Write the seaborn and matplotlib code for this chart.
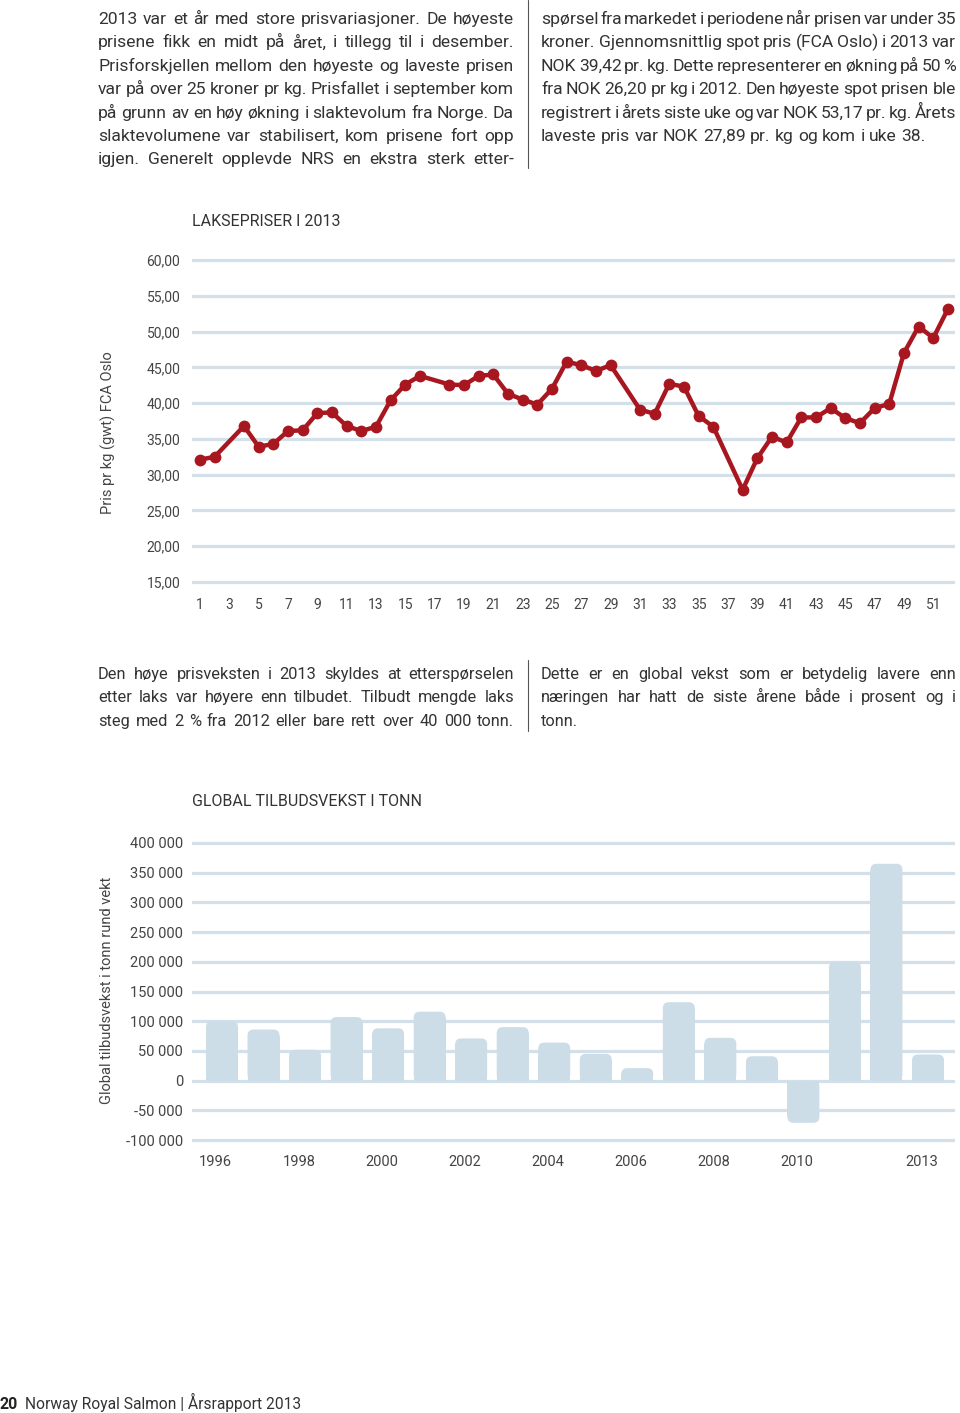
import numpy as np
import pandas as pd
import seaborn as sns
import matplotlib.pyplot as plt
from matplotlib.patches import FancyBboxPatch, Rectangle
from matplotlib.lines import Line2D

# ===== data =====
weeks = [1, 2, 4, 5, 6, 7, 8, 9, 10, 11, 12, 13, 14, 15, 16, 18, 19, 20, 21, 22,
         23, 24, 25, 26, 27, 28, 29, 31, 32, 33, 34, 35, 36, 38, 39, 40, 41, 42,
         43, 44, 45, 46, 47, 48, 49, 50, 51, 52]
prices = [32.1, 32.5, 36.8, 33.9, 34.3, 36.1, 36.2, 38.6, 38.7, 36.8, 36.1, 36.7,
          40.4, 42.6, 43.8, 42.6, 42.5, 43.8, 44.0, 41.3, 40.5, 39.8, 42.0, 45.8,
          45.3, 44.5, 45.3, 39.1, 38.5, 42.7, 42.3, 38.2, 36.7, 27.89, 32.3, 35.3,
          34.5, 38.0, 38.0, 39.3, 37.9, 37.2, 39.3, 39.9, 47.0, 50.7, 49.1, 53.17]
price_ticks = [15, 20, 25, 30, 35, 40, 45, 50, 55, 60]
week_ticks = list(range(1, 52, 2))

years = [str(y) for y in range(1996, 2014)]
growth = [100000, 86000, 52000, 107000, 88000, 116000, 71000, 90000, 64000,
          45000, 21000, 132000, 72000, 41000, -71000, 200000, 365000, 44000]
growth_ticks = list(range(-100000, 400001, 50000))
year_labels = ["1996", "1998", "2000", "2002", "2004", "2006", "2008", "2010", "2013"]

text_top_left = [
    "2013 var et år med store prisvariasjoner. De høyeste",
    "prisene fikk en midt på året, i tillegg til i desember.",
    "Prisforskjellen mellom den høyeste og laveste prisen",
    "var på over 25 kroner pr kg. Prisfallet i september kom",
    "på grunn av en høy økning i slaktevolum fra Norge. Da",
    "slaktevolumene var stabilisert, kom prisene fort opp",
    "igjen. Generelt opplevde NRS en ekstra sterk etter-",
]
text_top_right = [
    "spørsel fra markedet i periodene når prisen var under 35",
    "kroner. Gjennomsnittlig spot pris (FCA Oslo) i 2013 var",
    "NOK 39,42 pr. kg. Dette representerer en økning på 50 %",
    "fra NOK 26,20 pr kg i 2012. Den høyeste spot prisen ble",
    "registrert i årets siste uke og var NOK 53,17 pr. kg. Årets",
    "laveste pris var NOK 27,89 pr. kg og kom i uke 38.",
]
text_mid_left = [
    "Den høye prisveksten i 2013 skyldes at etterspørselen",
    "etter laks var høyere enn tilbudet. Tilbudt mengde laks",
    "steg med 2 % fra 2012 eller bare rett over 40 000 tonn.",
]
text_mid_right = [
    "Dette er en global vekst som er betydelig lavere enn",
    "næringen har hatt de siste årene både i prosent og i",
    "tonn.",
]

# ===== style =====
sns.set_theme(style="white")
plt.rcParams["font.family"] = ["Roboto", "DejaVu Sans"]
TXT = "#333333"
TICK = "#444444"
GRID = "#d3e0e9"
RED = "#a8171f"
BAR = "#ccdde7"

W, H = 960, 1413
fig = plt.figure(figsize=(W / 100, H / 100), dpi=100)
fig.patch.set_facecolor("white")
renderer = fig.canvas.get_renderer()


def fx(x):
    return x / W


def fy(y):
    return 1 - y / H


def rect(left, top, right, bottom):
    return [fx(left), fy(bottom), (right - left) / W, (bottom - top) / H]


def justify(lines, x0, x1, y0, step, size, free=()):
    probe1 = fig.text(0, 0, "x x", fontsize=size)
    probe2 = fig.text(0, 0, "xx", fontsize=size)
    space = probe1.get_window_extent(renderer).width - probe2.get_window_extent(renderer).width
    probe1.remove()
    probe2.remove()
    for i, line in enumerate(lines):
        words = line.split(" ")
        y = y0 + i * step
        texts = [fig.text(0, fy(y), w, fontsize=size, color=TXT, va="baseline")
                 for w in words]
        widths = [t.get_window_extent(renderer).width for t in texts]
        if i in free or len(words) == 1:
            gap = space
        else:
            gap = (x1 - x0 - sum(widths)) / (len(words) - 1)
        x = x0
        for t, w in zip(texts, widths):
            t.set_x(fx(x))
            x += w + gap


# ===== text blocks =====
justify(text_top_left, 98, 514, 24, 23.4, 12.6)
justify(text_top_right, 541, 956, 24, 23.4, 12.6, free=(5,))
justify(text_mid_left, 98, 514, 679, 23.4, 11.8)
justify(text_mid_right, 541, 956, 679, 23.4, 11.8, free=(2,))

for y_a, y_b in [(0, 168), (660, 731)]:
    fig.add_artist(Line2D([fx(528), fx(528)], [fy(y_a), fy(y_b)], color="#555555", lw=0.8))

# ===== chart 1: laksepriser =====
ax1 = fig.add_axes(rect(192, 256.4, 955, 585.6))
sns.lineplot(x=weeks, y=prices, ax=ax1, color=RED, lw=3.2, marker="o",
             markersize=8.5, markeredgewidth=0, zorder=3)
ax1.set_xlim(0.456, 52.48)
ax1.set_ylim(14.5, 60.5)
ax1.set_yticks(price_ticks)
ax1.set_yticklabels([f"{v},00" for v in price_ticks])
ax1.set_xticks(week_ticks)
ax1.set_xticklabels([str(w) for w in week_ticks])
ax1.yaxis.grid(True, color=GRID, lw=2.3)
ax1.xaxis.grid(False)
ax1.set_axisbelow(True)
for s in ax1.spines.values():
    s.set_visible(False)
ax1.tick_params(axis="y", length=0, pad=8.5, labelsize=10, labelcolor=TICK)
ax1.tick_params(axis="x", length=0, pad=9, labelsize=10, labelcolor=TICK)
ax1.set_xlabel("")
ax1.set_ylabel("")
fig.text(fx(108), fy(433), "Pris pr kg (gwt) FCA Oslo", rotation=90, ha="center",
         va="center", fontsize=10.5, color=TICK)
fig.text(fx(192), fy(226), "LAKSEPRISER I 2013", fontsize=11.5, color="#333333",
         va="baseline")

# ===== chart 2: global tilbudsvekst =====
ax2 = fig.add_axes(rect(192, 840, 955, 1143))
sns.barplot(x=years, y=growth, ax=ax2, color=BAR, saturation=1, width=0.77)
ax2.set_xlim(-0.722, 17.65)
ax2.set_ylim(-105000, 405000)
ax2.set_yticks(growth_ticks)
ax2.set_yticklabels([f"{v:,}".replace(",", " ") for v in growth_ticks])
ax2.set_xticks([years.index(y) - 0.15 for y in year_labels])
ax2.set_xticklabels(year_labels)
ax2.yaxis.grid(True, color=GRID, lw=2.3)
ax2.xaxis.grid(False)
ax2.set_axisbelow(True)
for s in ax2.spines.values():
    s.set_visible(False)
ax2.tick_params(axis="y", length=0, pad=6.5, labelsize=10.5, labelcolor=TICK)
ax2.tick_params(axis="x", length=0, pad=9, labelsize=10.5, labelcolor=TICK)
ax2.set_xlabel("")
ax2.set_ylabel("")

# rounded bar tops
xr = 18.372 / 763
yr = 510000 / 303
rad_px = 6
asp = yr / xr
for p in list(ax2.patches):
    x0, y0 = p.get_x(), p.get_y()
    w, h = p.get_width(), p.get_height()
    p.remove()
    bottom, top = min(y0, y0 + h), max(y0, y0 + h)
    ax2.add_patch(FancyBboxPatch((x0, bottom), w, top - bottom,
                                 boxstyle=f"round,pad=0,rounding_size={rad_px * xr}",
                                 mutation_aspect=asp, fc=BAR, ec="none", zorder=2))
    ry = rad_px * yr
    if abs(h) > ry:
        if h > 0:
            ax2.add_patch(Rectangle((x0, 0), w, h - ry, fc=BAR, ec="none", zorder=2))
        else:
            ax2.add_patch(Rectangle((x0, h + ry), w, -h - ry, fc=BAR, ec="none", zorder=2))

fig.text(fx(107), fy(990), "Global tilbudsvekst i tonn rund vekt", rotation=90,
         ha="center", va="center", fontsize=10.5, color=TICK)
fig.text(fx(192), fy(806), "GLOBAL TILBUDSVEKST I TONN", fontsize=11.5,
         color="#333333", va="baseline")

# ===== footer =====
fig.text(fx(0), fy(1409), "20", fontsize=11.5, fontweight="bold", color="#222222",
         va="baseline")
fig.text(fx(25), fy(1409), "Norway Royal Salmon | Årsrapport 2013", fontsize=11.2,
         color="#333333", va="baseline")

fig.savefig("out.png", dpi=100, facecolor="white")
